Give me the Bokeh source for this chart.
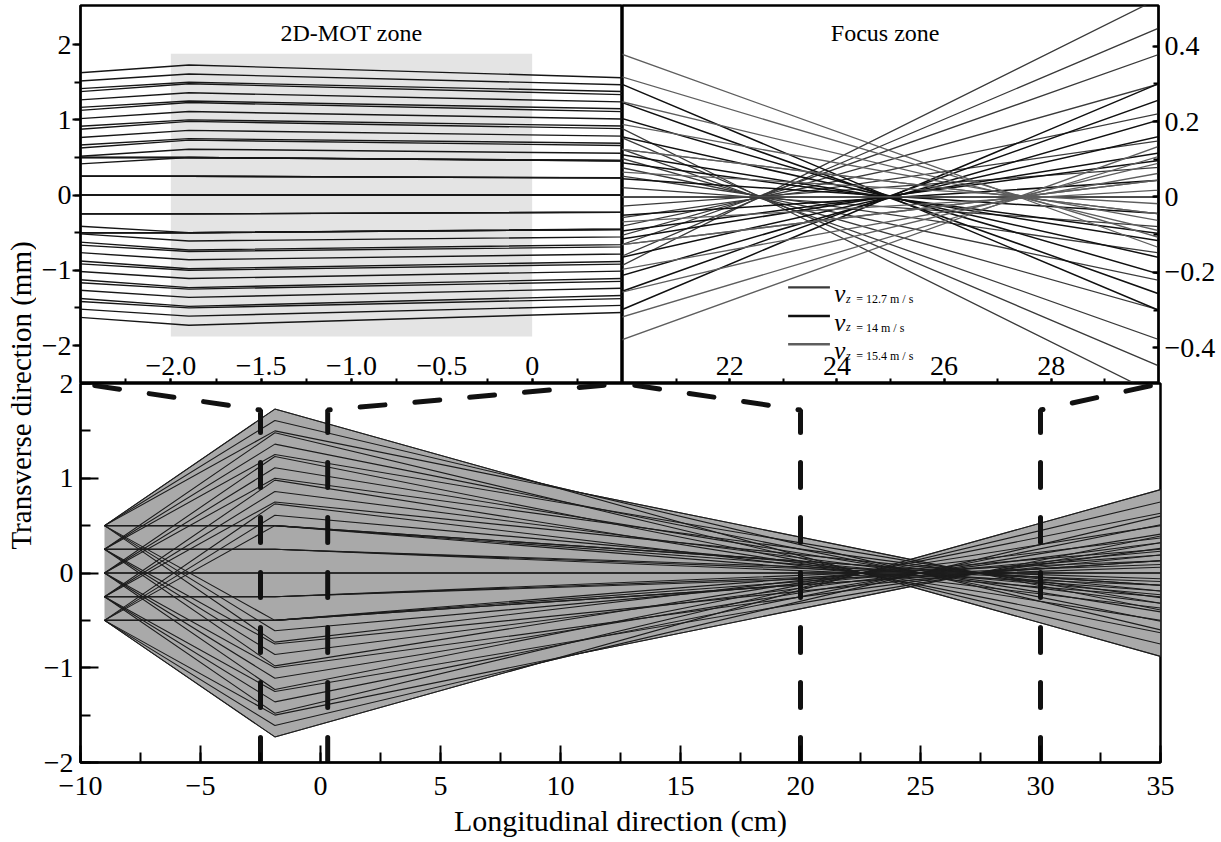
import numpy as np
from bokeh.plotting import figure
from bokeh.models import LinearAxis, FixedTicker, CustomJSTickFormatter, Label, Range1d
from bokeh.layouts import row, column
from bokeh.embed import file_html
from bokeh.resources import INLINE

FONT = "Liberation Serif"

# ---------------- data ----------------
# longitudinal positions (cm): atom source plane, 2D-MOT kick plane, end of plot
ray_x = [-9.0, -1.9, 35.0]
# transverse source positions (mm); each source emits an upward, a straight and a downward ray
source_y = [0.5, 0.25, 0.0, -0.25, -0.5]
speed_labels = ["12.7", "14", "15.4"]

# transverse position (mm) at the 2D-MOT kick plane, per longitudinal velocity class
kink_y_127 = [1.73, 0.50, -0.73, 1.48, 0.25, -0.98, 1.23, 0.00, -1.23, 0.98, -0.25, -1.48, 0.73, -0.50, -1.73]
kink_y_14 = [1.61, 0.50, -0.61, 1.36, 0.25, -0.86, 1.11, 0.00, -1.11, 0.86, -0.25, -1.36, 0.61, -0.50, -1.61]
kink_y_154 = [1.50, 0.50, -0.50, 1.25, 0.25, -0.75, 1.00, 0.00, -1.00, 0.75, -0.25, -1.25, 0.50, -0.50, -1.50]
# transverse position (mm) at x = 35 cm
end_y_127 = [-0.88, -0.25, 0.37, -0.75, -0.13, 0.50, -0.63, 0.00, 0.63, -0.50, 0.13, 0.75, -0.37, 0.25, 0.88]
end_y_14 = [-0.60, -0.19, 0.23, -0.51, -0.09, 0.32, -0.41, 0.00, 0.41, -0.32, 0.09, 0.51, -0.23, 0.19, 0.60]
end_y_154 = [-0.39, -0.13, 0.13, -0.32, -0.06, 0.19, -0.26, 0.00, 0.26, -0.19, 0.06, 0.32, -0.13, 0.13, 0.39]

# 2D-MOT zone (shaded box in the upper-left inset)
mot_zone_x = [-2.0, 0.0]
mot_zone_y = [-1.88, 1.88]

# dashed guides linking the main plot to the insets (cm, mm)
guide_x = [[-2.5, -2.5, -10.0], [0.3, 0.3, 12.58], [20.0, 20.0, 12.58], [30.0, 30.0, 35.0]]
guide_y = [[-2.0, 1.72, 2.0], [-2.0, 1.72, 2.0], [-2.0, 1.72, 2.0], [-2.0, 1.72, 2.0]]

# ticks
bot_x_major = [-10, -5, 0, 5, 10, 15, 20, 25, 30, 35]
bot_x_minor = [-10, -7.5, -5, -2.5, 0, 2.5, 5, 7.5, 10, 12.5, 15, 17.5, 20, 22.5, 25, 27.5, 30, 32.5, 35]
trans_major = [-2, -1, 0, 1, 2]
trans_minor = [-2, -1.5, -1, -0.5, 0, 0.5, 1, 1.5, 2]
mot_x_major = [-2.0, -1.5, -1.0, -0.5, 0.0]
mot_x_minor = [-2.25, -2.0, -1.75, -1.5, -1.25, -1.0, -0.75, -0.5, -0.25, 0.0, 0.25]
focus_x_major = [22, 24, 26, 28]
focus_x_minor = [21, 22, 23, 24, 25, 26, 27, 28, 29]
focus_y_major = [-0.4, -0.2, 0.0, 0.2, 0.4]
focus_y_minor = [-0.4, -0.3, -0.2, -0.1, 0.0, 0.1, 0.2, 0.3, 0.4]

# ---------------- helpers ----------------
src = np.repeat(source_y, 3)


def rays(kinks, ends):
    xs = [list(ray_x) for _ in kinks]
    ys = [[float(s), k, e] for s, k, e in zip(src, kinks, ends)]
    return xs, ys


classes = [(kink_y_127, end_y_127), (kink_y_14, end_y_14), (kink_y_154, end_y_154)]
all_xs, all_ys = [], []
for k, e in classes:
    xs, ys = rays(k, e)
    all_xs += xs
    all_ys += ys


def fmt(d):
    return CustomJSTickFormatter(args=dict(d=d), code="""
const a = Math.abs(tick);
if (a < 1e-9) return "0";
return (tick < 0 ? "\\u2212" : "") + a.toFixed(d);
""")


TICK_FS = "28px"


def style_axis(ax, major, minor, d, tin, tout, mtin, mtout, standoff):
    ax.ticker = FixedTicker(ticks=major, minor_ticks=minor)
    ax.formatter = fmt(d)
    ax.major_tick_in = tin
    ax.major_tick_out = tout
    ax.minor_tick_in = mtin
    ax.minor_tick_out = mtout
    ax.major_tick_line_width = 2
    ax.minor_tick_line_width = 2
    ax.major_tick_line_color = "black"
    ax.minor_tick_line_color = "black"
    ax.axis_line_width = 2
    ax.axis_line_color = "black"
    ax.major_label_standoff = standoff
    ax.major_label_text_font = FONT
    ax.major_label_text_font_size = TICK_FS
    ax.major_label_text_color = "black"


def base(w, h, xr, yr, **kw):
    p = figure(width=w, height=h, x_range=Range1d(*xr), y_range=Range1d(*yr),
               output_backend="svg", toolbar_location=None, **kw)
    p.outline_line_color = "black"
    p.outline_line_width = 2.5
    p.outline_line_alpha = 1
    for g in p.grid:
        g.visible = False
    p.background_fill_color = "white"
    p.border_fill_color = "white"
    return p


STRIP_W = 36
LEFT, RIGHT = 44, 58
TOP_PAD, TOP_FRAME_H = 5, 378
BOT_TOP, BOT_FRAME_H, BOT_BORDER = 18, 379, 80

# ---------------- upper-left inset: 2D-MOT zone ----------------
tl = base(LEFT + 542, TOP_PAD + TOP_FRAME_H, (-2.5, 0.5), (-2.505, 2.52),
          x_axis_location=None, y_axis_location="left",
          min_border_left=LEFT, min_border_right=0, min_border_top=TOP_PAD, min_border_bottom=0)
style_axis(tl.yaxis[0], trans_major, trans_minor, 0, 0, 8, 0, 6, 1)
tl_x = LinearAxis(fixed_location=-2.505)
style_axis(tl_x, mot_x_major, mot_x_minor, 1, 0, 5, 0, 5, 4)
tl.add_layout(tl_x, "above")
tl.quad(left=[mot_zone_x[0]], right=[mot_zone_x[1]], bottom=[mot_zone_y[0]], top=[mot_zone_y[1]],
        fill_color="#e4e4e4", line_color=None)
tl.multi_line(all_xs, all_ys, line_color="#161616", line_width=1.4)
tl.add_layout(Label(x=-1.0, y=2.16, text="2D-MOT zone", text_align="center", text_baseline="middle",
                    text_font=FONT, text_font_size="24px", text_color="black"))

# ---------------- upper-right inset: focus zone ----------------
tr = base(538 + RIGHT, TOP_PAD + TOP_FRAME_H, (20, 30), (-0.495, 0.508),
          x_axis_location=None, y_axis_location="right",
          min_border_left=0, min_border_right=RIGHT, min_border_top=TOP_PAD, min_border_bottom=0)
style_axis(tr.yaxis[0], focus_y_major, focus_y_minor, 1, 6, 0, 5, 0, 6)
tr_x = LinearAxis(fixed_location=-0.495)
style_axis(tr_x, focus_x_major, focus_x_minor, 0, 0, 5, 0, 5, 4)
tr.add_layout(tr_x, "above")
class_colors = ["#3a3a3a", "#101010", "#5e5e5e"]
class_widths = [1.3, 1.5, 1.3]
for (k, e), c, w in zip(classes, class_colors, class_widths):
    xs, ys = rays(k, e)
    tr.multi_line(xs, ys, line_color=c, line_width=w)
tr.add_layout(Label(x=24.9, y=0.436, text="Focus zone", text_align="center", text_baseline="middle",
                    text_font=FONT, text_font_size="24px", text_color="black"))
legend_rows = [-0.240, -0.316, -0.391]
for lab, c, yrow in zip(speed_labels, class_colors, legend_rows):
    tr.segment(x0=[23.09], x1=[23.87], y0=[yrow], y1=[yrow], line_color=c, line_width=2.4)
    tr.add_layout(Label(x=23.95, y=yrow - 0.016, text="v", text_font=FONT, text_font_style="italic",
                        text_font_size="25px", text_baseline="alphabetic", text_color="black"))
    tr.add_layout(Label(x=24.17, y=yrow - 0.03, text="z", text_font=FONT, text_font_style="italic",
                        text_font_size="12px", text_baseline="alphabetic", text_color="black"))
    tr.add_layout(Label(x=24.36, y=yrow - 0.031, text="= " + lab + " m / s", text_font=FONT,
                        text_font_size="12px", text_baseline="alphabetic", text_color="black"))

# ---------------- main plot ----------------
bot = base(LEFT + 1080 + RIGHT, BOT_TOP + BOT_FRAME_H + BOT_BORDER, (-10, 35), (-2, 2),
           min_border_left=LEFT, min_border_right=RIGHT, min_border_top=BOT_TOP,
           min_border_bottom=BOT_BORDER)
bot.border_fill_alpha = 0
bot.styles = {"margin-top": "-%dpx" % BOT_TOP}
style_axis(bot.xaxis[0], bot_x_major, bot_x_minor, 0, 17, 0, 10, 0, 14)
style_axis(bot.yaxis[0], trans_major, trans_minor, 0, 18, 0, 10, 0, 7)
bot.xaxis.axis_label = "Longitudinal direction (cm)"
bot.xaxis.axis_label_text_font = FONT
bot.xaxis.axis_label_text_font_size = "30px"
bot.xaxis.axis_label_text_font_style = "normal"
bot.xaxis.axis_label_standoff = 6
bot.xaxis.axis_label_text_color = "black"

xx = np.union1d(np.linspace(ray_x[0], ray_x[-1], 1500), ray_x)
Y = np.array([np.interp(xx, xs, ys) for xs, ys in zip(all_xs, all_ys)])
lo, hi = Y.min(axis=0), Y.max(axis=0)
bot.varea(x=xx, y1=lo, y2=hi, fill_color="#a9a9a9")
bot.line(xx, hi, line_color="#333333", line_width=1)
bot.line(xx, lo, line_color="#333333", line_width=1)
bot.multi_line(all_xs, all_ys, line_color="#1c1c1c", line_width=1.1)
bot.multi_line(guide_x, guide_y, line_color="#111111", line_width=5, line_dash="25 30", line_cap="round")

# ---------------- y-axis title strip ----------------
STRIP_H = TOP_PAD + TOP_FRAME_H + BOT_FRAME_H + BOT_BORDER
strip = figure(width=STRIP_W, height=STRIP_H, x_range=Range1d(0, 1), y_range=Range1d(0, STRIP_H),
               x_axis_location=None, y_axis_location=None, output_backend="svg", toolbar_location=None,
               min_border=0, outline_line_color=None)
for g in strip.grid:
    g.visible = False
strip.add_layout(Label(x=0.58, y=STRIP_H - 395, text="Transverse direction (mm)", angle=np.pi / 2,
                       text_align="center", text_baseline="middle", text_font=FONT,
                       text_font_size="29px", text_color="black"))

layout = row(strip, column(row(tl, tr), bot))
open("out.html", "w", encoding="utf-8").write(file_html(layout, INLINE))
